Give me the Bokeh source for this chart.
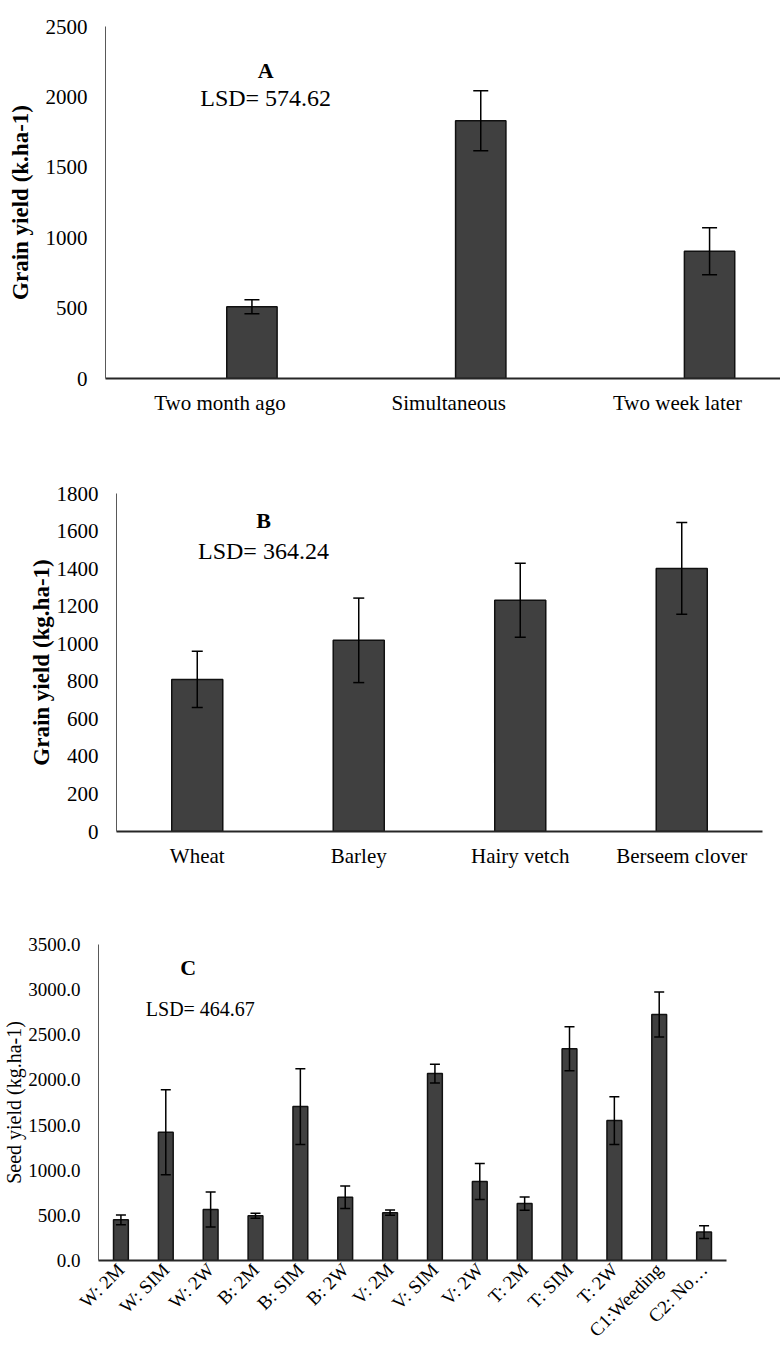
import math
from bokeh.plotting import figure
from bokeh.layouts import column
from bokeh.models import (ColumnDataSource, Whisker, FixedTicker, Label,
                          NumeralTickFormatter, Range1d, TeeHead)
from bokeh.embed import file_html
from bokeh.resources import INLINE

FONT = "Liberation Serif"

# ---------------- data ----------------
a_categories = ["Two month ago", "Simultaneous", "Two week later"]
a_values = [510, 1830, 903]
a_errors = [50, 213, 167]
a_ticks = [0, 500, 1000, 1500, 2000, 2500]

b_categories = ["Wheat", "Barley", "Hairy vetch", "Berseem clover"]
b_values = [810, 1018, 1232, 1401]
b_errors = [150, 225, 197, 244]
b_ticks = [0, 200, 400, 600, 800, 1000, 1200, 1400, 1600, 1800]

c_categories = ["W: 2M", "W: SIM", "W: 2W", "B: 2M", "B: SIM", "B: 2W",
                "V: 2M", "V: SIM", "V: 2W", "T: 2M", "T: SIM", "T: 2W",
                "C1:Weeding", "C2: No\u2026"]
c_values = [450, 1420, 565, 495, 1705, 700, 530, 2070, 875, 630, 2345, 1550, 2725, 315]
c_errors = [55, 470, 195, 27, 420, 125, 28, 105, 200, 73, 243, 265, 250, 70]
c_ticks = [0, 500, 1000, 1500, 2000, 2500, 3000, 3500]


def make_panel(cats, vals, errs, ticks, height, x_end, offset, bar_w, head,
               borders, ylabel, ylabel_bold, ylabel_size, tick_size, ylabel_standoff,
               xlabel_size, xlabel_standoff, orientation="horizontal", fmt=None):
    n = len(cats)
    xs = [i + offset for i in range(n)]
    src = ColumnDataSource(dict(
        x=xs, top=vals,
        upper=[v + e for v, e in zip(vals, errs)],
        lower=[v - e for v, e in zip(vals, errs)],
    ))
    left, right, top, bottom = borders
    p = figure(width=780, height=height,
               x_range=Range1d(-0.5, x_end), y_range=Range1d(ticks[0], ticks[-1]),
               output_backend="svg", toolbar_location=None,
               min_border_left=left, min_border_right=right,
               min_border_top=top, min_border_bottom=bottom)
    p.frame_align = False
    p.vbar(x="x", top="top", width=bar_w, source=src,
           fill_color="#404040", line_color="#111111", line_width=1.5)
    w = Whisker(base="x", upper="upper", lower="lower", source=src,
                dimension="height", line_color="black", line_width=1.5,
                upper_head=TeeHead(size=head, line_color="black", line_width=1.5),
                lower_head=TeeHead(size=head, line_color="black", line_width=1.5))
    w.level = "overlay"
    p.add_layout(w)

    p.xgrid.visible = False
    p.ygrid.visible = False
    p.outline_line_color = None
    p.background_fill_color = "white"
    p.border_fill_color = "white"

    p.xaxis.ticker = FixedTicker(ticks=list(range(n)))
    p.xaxis.major_label_overrides = {i: c for i, c in enumerate(cats)}
    p.yaxis.ticker = FixedTicker(ticks=ticks)
    if fmt:
        p.yaxis.formatter = NumeralTickFormatter(format=fmt)

    for ax in (p.xaxis[0], p.yaxis[0]):
        ax.major_tick_line_color = None
        ax.minor_tick_line_color = None
        ax.major_tick_out = 0
        ax.major_tick_in = 0
        ax.major_label_text_font = FONT
        ax.major_label_text_color = "black"
    p.yaxis.major_label_text_font_size = tick_size
    p.yaxis.major_label_standoff = 18
    p.yaxis.axis_line_color = "#595959"
    p.yaxis.axis_line_width = 1
    p.xaxis.axis_line_color = "#262626"
    p.xaxis.axis_line_width = 2
    p.xaxis.major_label_text_font_size = xlabel_size
    p.xaxis.major_label_standoff = xlabel_standoff
    if orientation != "horizontal":
        p.xaxis.major_label_orientation = orientation

    p.yaxis.axis_label = ylabel
    p.yaxis.axis_label_text_font = FONT
    p.yaxis.axis_label_text_font_size = ylabel_size
    p.yaxis.axis_label_text_font_style = "bold" if ylabel_bold else "normal"
    p.yaxis.axis_label_text_color = "black"
    p.yaxis.axis_label_standoff = ylabel_standoff
    return p


def add_text(p, x, y, text, size, bold=False):
    p.add_layout(Label(x=x, y=y, text=text, text_font=FONT, text_font_size=size,
                       text_font_style="bold" if bold else "normal",
                       text_color="black", text_align="center",
                       text_baseline="middle"))


# Panel A
pa = make_panel(a_categories, a_values, a_errors, a_ticks, height=440, x_end=2.45,
                offset=0.14, bar_w=0.22, head=15, borders=(105, 0, 26, 62),
                ylabel="Grain yield (k.ha-1)", ylabel_bold=True, ylabel_size="23px",
                tick_size="21px", ylabel_standoff=10, xlabel_size="21px",
                xlabel_standoff=12)
add_text(pa, 0.2, 2187, "A", "22px", bold=True)
add_text(pa, 0.2, 1989, "LSD= 574.62", "24px")

# Panel B
pb = make_panel(b_categories, b_values, b_errors, b_ticks, height=460, x_end=3.5,
                offset=0.0, bar_w=0.316, head=11, borders=(116, 18, 53, 69),
                ylabel="Grain yield (kg.ha-1)", ylabel_bold=True, ylabel_size="23px",
                tick_size="21px", ylabel_standoff=0, xlabel_size="21px",
                xlabel_standoff=12)
add_text(pb, 0.41, 1656, "B", "22px", bold=True)
add_text(pb, 0.41, 1496, "LSD= 364.24", "24px")

# Panel C
pc = make_panel(c_categories, c_values, c_errors, c_ticks, height=451, x_end=13.5,
                offset=0.0, bar_w=0.33, head=10, borders=(98, 54, 44, 91),
                ylabel="Seed yield (kg.ha-1)", ylabel_bold=False, ylabel_size="20px",
                tick_size="19px", ylabel_standoff=0, xlabel_size="19px",
                xlabel_standoff=6, orientation=math.pi / 4, fmt="0.0")
add_text(pc, 1.5, 3245, "C", "22px", bold=True)
add_text(pc, 1.77, 2791, "LSD= 464.67", "20px")

layout = column(pa, pb, pc, spacing=0)
open("out.html", "w").write(file_html(layout, INLINE))
